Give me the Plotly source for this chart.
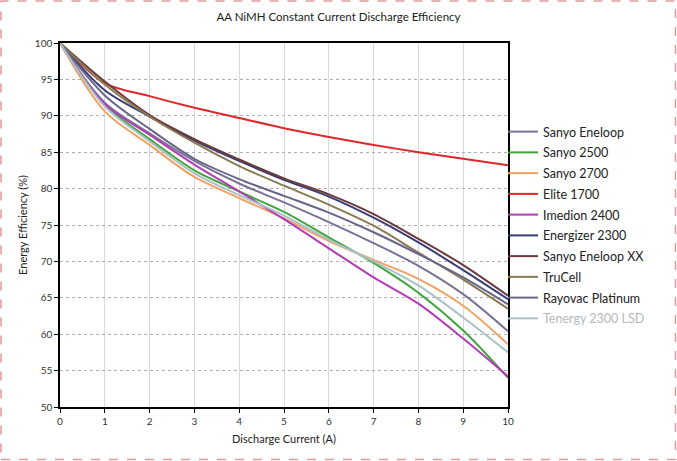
import plotly.graph_objects as go

current = [0, 1, 2, 3, 4, 5, 6, 7, 8, 9, 10]

series_names = ["Sanyo Eneloop", "Sanyo 2500", "Sanyo 2700", "Elite 1700", "Imedion 2400",
                "Energizer 2300", "Sanyo Eneloop XX", "TruCell", "Rayovac Platinum", "Tenergy 2300 LSD"]

sanyo_eneloop = [100, 91.8, 87.6, 83.8, 80.7, 78.1, 75.4, 72.5, 69.4, 65.5, 60.4]
sanyo_2500 = [100, 91.5, 86.8, 82.5, 79.6, 76.8, 73.3, 69.8, 65.7, 60.5, 54.0]
sanyo_2700 = [100, 90.6, 86.0, 81.6, 78.7, 75.9, 72.8, 70.2, 67.6, 63.9, 58.6]
elite_1700 = [100, 94.5, 92.7, 91.1, 89.7, 88.3, 87.1, 86.0, 85.0, 84.1, 83.2]
imedion_2400 = [100, 91.6, 87.4, 83.3, 79.6, 75.8, 71.8, 67.8, 64.2, 59.4, 54.2]
energizer_2300 = [100, 93.5, 89.9, 86.6, 83.8, 81.2, 78.9, 76.0, 72.6, 68.8, 64.8]
sanyo_eneloop_xx = [100, 94.7, 90.1, 86.8, 84.0, 81.4, 79.2, 76.5, 73.1, 69.5, 65.3]
trucell = [100, 94.3, 89.9, 86.3, 83.1, 80.4, 77.8, 74.9, 71.2, 67.5, 63.5]
rayovac_platinum = [100, 92.8, 88.2, 84.1, 81.3, 79.0, 76.7, 74.0, 71.0, 67.8, 64.1]
tenergy_2300_lsd = [100, 91.3, 86.5, 82.1, 79.1, 76.3, 73.0, 70.0, 66.7, 62.3, 57.5]

series_values = [sanyo_eneloop, sanyo_2500, sanyo_2700, elite_1700, imedion_2400,
                 energizer_2300, sanyo_eneloop_xx, trucell, rayovac_platinum, tenergy_2300_lsd]

colors = ["#7a7296", "#3fa63c", "#f2a260", "#e0262b", "#b13cb5",
          "#3a3c78", "#6b3a3c", "#8a7a52", "#66668a", "#a9c0c8"]

x_ticks = [0, 1, 2, 3, 4, 5, 6, 7, 8, 9, 10]
y_ticks = [50, 55, 60, 65, 70, 75, 80, 85, 90, 95, 100]

FONT = "Lato, 'Open Sans', sans-serif"

fig = go.Figure()
for name, vals, col in zip(series_names, series_values, colors):
    label = name
    if name == "Tenergy 2300 LSD":
        label = "<span style='color:#b3b9bd'>" + name + "</span>"
    fig.add_trace(go.Scatter(
        x=current, y=vals, mode="lines", name=label, legendgroup=name,
        line=dict(color=col, width=2, shape="spline", smoothing=0.9),
    ))

W, H = 677, 461
L, R, T, B = 60, 169, 43, 54
pw, ph = W - L - R, H - T - B

fig.update_layout(
    width=W, height=H,
    margin=dict(l=L, r=R, t=T, b=B, autoexpand=False),
    paper_bgcolor="white", plot_bgcolor="white",
    font=dict(family=FONT, size=10, color="#333333"),
    title=dict(text="AA NiMH Constant Current Discharge Efficiency",
               xref="container", x=0.5, xanchor="center",
               yref="container", y=1 - 17 / H, yanchor="middle",
               font=dict(family=FONT, size=11.5, color="#222222")),
    showlegend=True,
    legend=dict(x=(503 - L) / pw, xanchor="left", y=(407 - 117) / ph, yanchor="top",
                font=dict(family=FONT, size=12.5, color="#222222"),
                bgcolor="rgba(0,0,0,0)", borderwidth=0, tracegroupgap=1.5),
    shapes=[dict(type="rect", xref="paper", yref="paper",
                 x0=(1 - L) / pw, x1=(W - 1.5 - L) / pw,
                 y0=-(B - 1.5) / ph, y1=1 + (T - 1) / ph,
                 line=dict(color="#e29a9a", width=1.5, dash="dash"), layer="below")],
)

fig.update_xaxes(
    range=[0, 10], tickvals=x_ticks, ticktext=[str(v) for v in x_ticks],
    showgrid=True, gridcolor="#d9d9d9", gridwidth=1,
    showline=True, linecolor="black", linewidth=1.5, mirror=True,
    ticks="outside", ticklen=4, tickcolor="black",
    zeroline=False, automargin=False,
    title=dict(text="Discharge Current (A)", font=dict(family=FONT, size=11, color="#222222"), standoff=10),
)
fig.update_yaxes(
    range=[50, 100], tickvals=y_ticks, ticktext=[str(v) for v in y_ticks],
    showgrid=True, gridcolor="#b0b0b0", gridwidth=1, griddash="dot",
    showline=True, linecolor="black", linewidth=1.5, mirror=True,
    ticks="outside", ticklen=4, tickcolor="black",
    zeroline=False, automargin=False,
    title=dict(text="Energy Efficiency (%)", font=dict(family=FONT, size=11, color="#222222"), standoff=5),
)

fig.write_html("out.html", config={"displayModeBar": False},
               post_script="document.body.style.margin='0';document.body.style.overflow='hidden';")
